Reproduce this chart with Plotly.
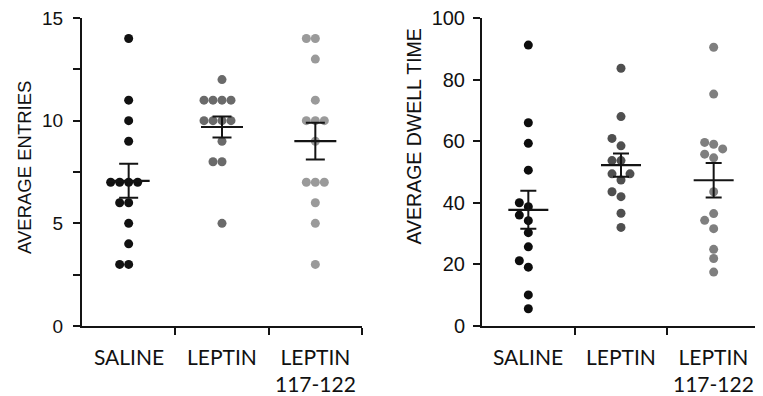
import numpy as np
import plotly.graph_objects as go

# ---------------- data ----------------
groups = ["SALINE", "LEPTIN", "LEPTIN<br>117-122"]
entries_saline = [14, 11, 10, 9, 7, 7, 7, 7, 6, 6, 5, 4, 3, 3]
entries_leptin = [12, 11, 11, 11, 11, 10, 10, 10, 10, 9, 8, 8, 5]
entries_l117 = [14, 14, 13, 11, 10, 10, 10, 9, 7, 7, 7, 6, 5, 3]
dwell_saline = [91.2, 66.0, 59.3, 50.6, 40.0, 38.7, 36.0, 34.2, 30.3, 25.7, 21.2, 19.1, 10.1, 5.6]
dwell_leptin = [83.7, 68.0, 60.9, 58.5, 53.7, 53.7, 49.4, 49.4, 47.4, 43.6, 42.0, 36.6, 32.0]
dwell_l117 = [90.5, 75.3, 59.6, 59.0, 57.5, 55.8, 54.6, 43.6, 36.5, 34.3, 31.6, 24.9, 21.9, 17.5]
entries_ticks = [0, 5, 10, 15]
dwell_ticks = [0, 20, 40, 60, 80, 100]

# ---------------- layout constants ----------------
# the page body has an 8px margin, so the figure is 8px smaller and coordinates shift by 8
OFF = 8
W, H = 763 - OFF, 396 - OFF
Y_TOP, Y_BOT = 18 - OFF, 326 - OFF
LEFT_DOM = (82 - OFF, 362 - OFF)
RIGHT_DOM = (482 - OFF, 760 - OFF)
XR = [-0.5, 2.5]
DOT = 9

left_colors = ["#111111", "#6a6a6a", "#9a9a9a"]
right_colors = ["#0d0d0d", "#4f4f4f", "#7f7f7f"]
AX = "#141414"
SANS = "Arial, 'Liberation Sans', Helvetica, sans-serif"


def swarm(vals, px_per_y, px_per_x, step=DOT):
    vals = np.asarray(vals, float)
    order = np.argsort(vals, kind="stable")
    seq = [0]
    for k in range(1, 10):
        seq += [-k, k]
    placed = []
    offs = np.zeros(len(vals))
    for i in order:
        y = vals[i] * px_per_y
        xo = 0
        for k in seq:
            xo = k * step
            if all(np.hypot(xo - px, y - py) >= step - 0.01 for px, py in placed):
                break
        placed.append((xo, y))
        offs[i] = xo / px_per_x
    return offs


fig = go.Figure()


def panel(series, colors, yrange, xa, ya, mean_len, cap):
    dom = LEFT_DOM if xa == "x" else RIGHT_DOM
    px_x = (dom[1] - dom[0]) / (XR[1] - XR[0])
    px_y = (Y_BOT - Y_TOP) / (yrange[1] - yrange[0])
    for k, vals in enumerate(series):
        offs = swarm(vals, px_y, px_x)
        fig.add_trace(go.Scatter(
            x=k + offs, y=vals, mode="markers", xaxis=xa, yaxis=ya,
            marker=dict(size=DOT, color=colors[k], line=dict(width=0)),
            showlegend=False, hoverinfo="y", cliponaxis=False))
    for k, vals in enumerate(series):
        v = np.asarray(vals, float)
        m = v.mean()
        sem = v.std(ddof=1) / np.sqrt(len(v))
        fig.add_trace(go.Scatter(
            x=[k], y=[m], mode="markers", xaxis=xa, yaxis=ya,
            marker=dict(symbol="line-ew", size=mean_len / 1.4,
                        line=dict(width=2.2, color=AX), color=AX),
            error_y=dict(type="data", array=[sem], width=cap, thickness=2, color=AX),
            showlegend=False, hoverinfo="y", cliponaxis=False))


panel([entries_saline, entries_leptin, entries_l117], left_colors, [0, 15], "x", "y", 42, 9.5)
panel([dwell_saline, dwell_leptin, dwell_l117], right_colors, [0, 100], "x2", "y2", 40, 8)

ydom = [(H - Y_BOT) / H, (H - Y_TOP) / H]
xcommon = dict(range=XR, showline=True, linewidth=2, linecolor=AX, ticks="outside",
               ticklen=7, tickwidth=2, tickcolor=AX, tickvals=[0.5, 1.5, 2.5],
               showticklabels=False, showgrid=False, zeroline=False, fixedrange=True,
               automargin=False)

fig.update_layout(
    width=W, height=H, margin=dict(l=0, r=0, t=0, b=0, pad=0, autoexpand=False),
    plot_bgcolor="white", paper_bgcolor="white",
    font=dict(family=SANS, color="#111111"),
    xaxis=dict(domain=[LEFT_DOM[0] / W, LEFT_DOM[1] / W], anchor="y", **xcommon),
    xaxis2=dict(domain=[RIGHT_DOM[0] / W, RIGHT_DOM[1] / W], anchor="y2", **xcommon),
    yaxis=dict(domain=ydom, anchor="x", range=[0, 15], tickvals=entries_ticks,
               showline=True, linewidth=2, linecolor=AX, ticks="outside", ticklen=7,
               tickwidth=2, tickcolor=AX, showgrid=False, zeroline=False,
               tickfont=dict(family=SANS, size=19), ticklabelstandoff=6,
               automargin=False, ticklabeloverflow="allow",
               minor=dict(tickvals=[2.5, 7.5, 12.5], ticks="outside", ticklen=7,
                          tickwidth=2, tickcolor=AX, showgrid=False)),
    yaxis2=dict(domain=ydom, anchor="x2", range=[0, 100], tickvals=dwell_ticks,
                showline=True, linewidth=2, linecolor=AX, ticks="outside", ticklen=7,
                tickwidth=2, tickcolor=AX, showgrid=False, zeroline=False,
                tickfont=dict(family=SANS, size=20), ticklabelstandoff=4,
                automargin=False, ticklabeloverflow="allow"),
)

# axis titles
fig.add_annotation(text="AVERAGE ENTRIES", xref="paper", yref="paper",
                   x=(24 - OFF) / W, y=(H - (168 - OFF)) / H, textangle=-90,
                   showarrow=False, font=dict(family=SANS, size=18.5),
                   xanchor="center", yanchor="middle")
fig.add_annotation(text="AVERAGE DWELL TIME", xref="paper", yref="paper",
                   x=(413 - OFF) / W, y=(H - (136.5 - OFF)) / H, textangle=-90,
                   showarrow=False, font=dict(family=SANS, size=19.5),
                   xanchor="center", yanchor="middle")

# category labels
for xa in ["x", "x2"]:
    for k, g in enumerate(groups):
        fig.add_annotation(text=g, xref=xa, yref="paper", x=k, y=(H - (342 - OFF)) / H,
                           yanchor="top", xanchor="center", showarrow=False,
                           font=dict(family="Lato, 'Open Sans', sans-serif", size=21,
                                     color="#111111"))

fig.write_html("out.html")
